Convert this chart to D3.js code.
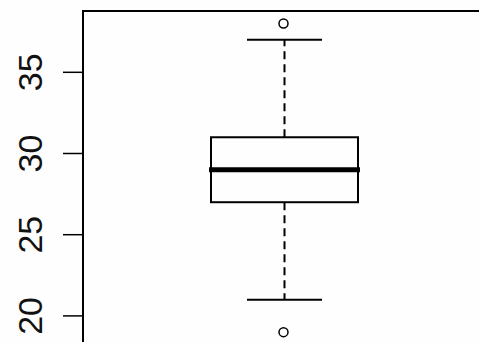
<!DOCTYPE html>
<html>
<head>
    <script src="https://d3js.org/d3.v7.min.js"></script>
    <style>
        body { margin: 0; background: #fefefe; }
        svg { display: block; }
    </style>
</head>
<body>
    <div id="chart"></div>
    <script>
        // box statistics
        var stats = { lowWhisker: 21, q1: 27, median: 29, q3: 31, highWhisker: 37 };
        var outliers = [38, 19];
        var tickValues = [20, 25, 30, 35];

        var width = 479, height = 342;
        var plotLeft = 83, plotTop = 11;

        var svg = d3.select("#chart")
            .append("svg")
            .attr("width", width)
            .attr("height", height);

        // 30 -> 153.5 px, 16.24 px per unit
        var y = d3.scaleLinear()
            .domain([30, 40])
            .range([153.5, 153.5 - 162.4]);

        var cx = 284.5;
        var boxW = 147, capW = 75;

        // plot frame (right and bottom fall outside the window)
        svg.append("path")
            .attr("d", "M" + plotLeft + "," + (height + 5) + "V" + plotTop + "H" + (width + 5))
            .attr("fill", "none")
            .attr("stroke", "#000")
            .attr("stroke-width", 2);

        // y axis ticks
        svg.selectAll("line.tick")
            .data(tickValues)
            .enter()
            .append("line")
            .attr("class", "tick")
            .attr("x1", plotLeft - 20)
            .attr("x2", plotLeft)
            .attr("y1", function(d) { return y(d); })
            .attr("y2", function(d) { return y(d); })
            .attr("stroke", "#000")
            .attr("stroke-width", 1.5);

        svg.selectAll("text.tick")
            .data(tickValues)
            .enter()
            .append("text")
            .attr("class", "tick")
            .attr("transform", function(d) { return "translate(42," + y(d) + ") rotate(-90)"; })
            .attr("text-anchor", "middle")
            .attr("font-family", "Liberation Sans, Arial, sans-serif")
            .attr("font-size", "34px")
            .attr("fill", "#111")
            .text(function(d) { return d; });

        // whiskers
        var g = svg.append("g").attr("stroke", "#000").attr("fill", "none");
        g.append("line")
            .attr("x1", cx).attr("x2", cx)
            .attr("y1", y(stats.q3)).attr("y2", y(stats.highWhisker))
            .attr("stroke-width", 2)
            .attr("stroke-dasharray", "8,5");
        g.append("line")
            .attr("x1", cx).attr("x2", cx)
            .attr("y1", y(stats.q1)).attr("y2", y(stats.lowWhisker))
            .attr("stroke-width", 2)
            .attr("stroke-dasharray", "8,5");
        [stats.highWhisker, stats.lowWhisker].forEach(function(v) {
            g.append("line")
                .attr("x1", cx - capW / 2).attr("x2", cx + capW / 2)
                .attr("y1", y(v)).attr("y2", y(v))
                .attr("stroke-width", 2);
        });

        // box
        g.append("rect")
            .attr("x", cx - boxW / 2)
            .attr("y", y(stats.q3))
            .attr("width", boxW)
            .attr("height", y(stats.q1) - y(stats.q3))
            .attr("fill", "#fefefe")
            .attr("stroke-width", 2);

        g.append("line")
            .attr("x1", cx - boxW / 2 - 2).attr("x2", cx + boxW / 2 + 2)
            .attr("y1", y(stats.median)).attr("y2", y(stats.median))
            .attr("stroke-width", 5);

        // outliers
        g.selectAll("circle")
            .data(outliers)
            .enter()
            .append("circle")
            .attr("cx", cx - 1)
            .attr("cy", function(d) { return y(d); })
            .attr("r", 4.5)
            .attr("stroke-width", 1.5);
    </script>
</body>
</html>
